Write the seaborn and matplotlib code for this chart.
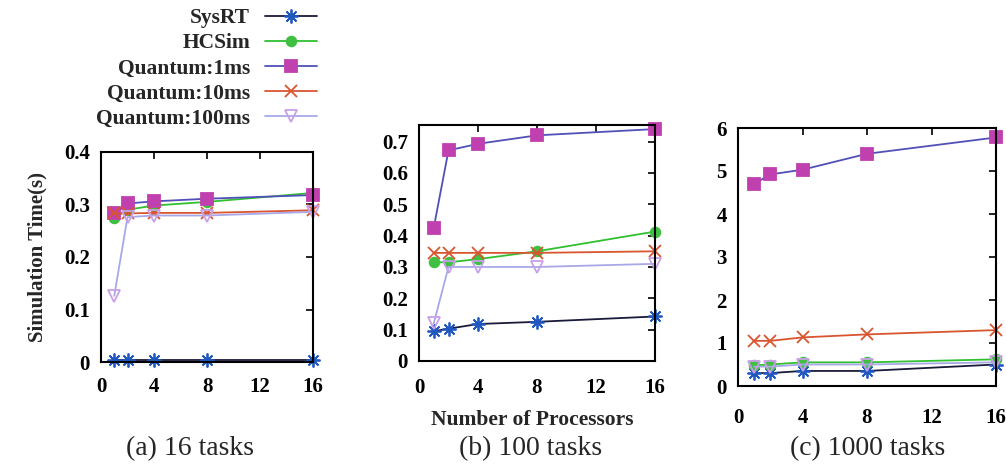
import seaborn as sns
import matplotlib.pyplot as plt
from matplotlib.lines import Line2D
import pandas as pd

# data
procs = [1, 2, 4, 8, 16]
series = ['SysRT', 'HCSim', 'Quantum:1ms', 'Quantum:10ms', 'Quantum:100ms']

t16 = {
    'SysRT': [0.004, 0.004, 0.004, 0.004, 0.004],
    'HCSim': [0.275, 0.29, 0.298, 0.305, 0.322],
    'Quantum:1ms': [0.283, 0.302, 0.306, 0.311, 0.318],
    'Quantum:10ms': [0.283, 0.283, 0.284, 0.284, 0.289],
    'Quantum:100ms': [0.126, 0.276, 0.279, 0.279, 0.286],
}
t100 = {
    'SysRT': [0.095, 0.103, 0.118, 0.125, 0.142],
    'HCSim': [0.315, 0.315, 0.325, 0.35, 0.413],
    'Quantum:1ms': [0.425, 0.672, 0.693, 0.72, 0.74],
    'Quantum:10ms': [0.345, 0.345, 0.345, 0.345, 0.35],
    'Quantum:100ms': [0.12, 0.30, 0.30, 0.30, 0.31],
}
t1000 = {
    'SysRT': [0.3, 0.3, 0.35, 0.35, 0.5],
    'HCSim': [0.48, 0.5, 0.55, 0.55, 0.62],
    'Quantum:1ms': [4.7, 4.92, 5.03, 5.4, 5.78],
    'Quantum:10ms': [1.05, 1.05, 1.13, 1.2, 1.3],
    'Quantum:100ms': [0.45, 0.45, 0.5, 0.5, 0.55],
}
captions = ['(a) 16 tasks', '(b) 100 tasks', '(c) 1000 tasks']

sns.set_style('white')
plt.rcParams['font.family'] = ['Liberation Serif', 'DejaVu Serif']

line_col = {'SysRT': '#1a1a3a', 'HCSim': '#30c030', 'Quantum:1ms': '#5050b8',
            'Quantum:10ms': '#d85530', 'Quantum:100ms': '#a8a8e8'}
mark_col = {'SysRT': '#2058c0', 'HCSim': '#40c040', 'Quantum:1ms': '#c040b0',
            'Quantum:10ms': '#d85530', 'Quantum:100ms': '#c8a0e8'}
marks = {'SysRT': (8, 2, 0), 'HCSim': 'o', 'Quantum:1ms': 's',
         'Quantum:10ms': 'x', 'Quantum:100ms': 'v'}
msize = {'SysRT': 10, 'HCSim': 7, 'Quantum:1ms': 9, 'Quantum:10ms': 9, 'Quantum:100ms': 9}
mface = {'SysRT': mark_col['SysRT'], 'HCSim': mark_col['HCSim'],
         'Quantum:1ms': mark_col['Quantum:1ms'], 'Quantum:10ms': mark_col['Quantum:10ms'],
         'Quantum:100ms': 'none'}

W, H = 1006, 466
fig = plt.figure(figsize=(W / 100, H / 100), dpi=100)


def box(l, r, t, b):
    return [l / W, (H - b) / H, (r - l) / W, (b - t) / H]


boxes = [box(101, 313, 152, 362), box(419, 655, 125, 361), box(738, 996, 128, 386)]
ylims = [(0, 0.4), (0, 0.753), (0, 6)]
yticks = [[0, 0.1, 0.2, 0.3, 0.4], [0, 0.1, 0.2, 0.3, 0.4, 0.5, 0.6, 0.7], [0, 1, 2, 3, 4, 5, 6]]
ylabs = [['0', '0.1', '0.2', '0.3', '0.4'],
         ['0', '0.1', '0.2', '0.3', '0.4', '0.5', '0.6', '0.7'],
         ['0', '1', '2', '3', '4', '5', '6']]
xpads = [11, 12, 16]
cap_x = [190, 531, 868]

for i, data in enumerate([t16, t100, t1000]):
    ax = fig.add_axes(boxes[i])
    for s in series:
        sns.lineplot(x=procs, y=data[s], ax=ax, color=line_col[s], lw=1.3,
                     marker=marks[s], markersize=msize[s], markerfacecolor=mface[s],
                     markeredgecolor=mark_col[s], markeredgewidth=1.3, clip_on=False)
    ax.set_xlim(0, 16)
    ax.set_ylim(*ylims[i])
    ax.set_xticks([0, 4, 8, 12, 16])
    ax.set_xticklabels(['0', '4', '8', '12', '16'], fontweight='bold', fontsize=15)
    ax.set_yticks(yticks[i])
    ax.set_yticklabels(ylabs[i], fontweight='bold', fontsize=15)
    ax.tick_params(direction='in', length=5, width=1.2, top=True, right=True, colors='black')
    ax.tick_params(axis='x', pad=xpads[i])
    ax.tick_params(axis='y', pad=8)
    for sp in ax.spines.values():
        sp.set_visible(True)
        sp.set_color('black')
        sp.set_linewidth(1.5)
    fig.text(cap_x[i] / W, 1 - 449 / H, captions[i], ha='center', va='center', fontsize=20)

fig.axes[0].set_ylabel('Simulation Time(s)', fontweight='bold', fontsize=15, labelpad=12)
fig.text(532 / W, 1 - 420 / H, 'Number of Processors', ha='center', va='center',
         fontweight='bold', fontsize=15.5)

handles = [Line2D([], [], color=line_col[s], lw=1.3, marker=marks[s], markersize=msize[s],
                  markerfacecolor=mface[s], markeredgecolor=mark_col[s], markeredgewidth=1.3)
           for s in series]
fig.legend(handles, series, loc='upper right', bbox_to_anchor=(317 / W, 1 - 8 / H), frameon=False,
           markerfirst=False, prop={'weight': 'bold', 'size': 15.5}, handlelength=2.4,
           labelspacing=0.24, borderaxespad=0.0, borderpad=0.0, handletextpad=0.7)

plt.savefig('out.png', dpi=100)
